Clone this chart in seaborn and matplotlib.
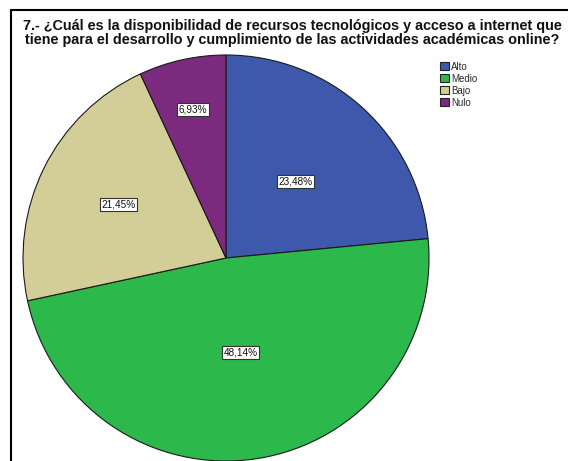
import matplotlib
matplotlib.use("Agg")
import matplotlib.pyplot as plt
from matplotlib.lines import Line2D
from matplotlib.patches import Patch
import seaborn as sns
import numpy as np

sns.set_theme(style="white")
plt.rcParams["font.family"] = ["Liberation Sans", "DejaVu Sans"]

categories = ["Alto", "Medio", "Bajo", "Nulo"]
percentages = [23.48, 48.14, 21.45, 6.93]
colors = ["#3E58AC", "#2DB84B", "#D3CE97", "#7B2A7E"]
label_radius = [0.51, 0.47, 0.59, 0.75]

W, H = 568, 461
fig = plt.figure(figsize=(W / 100, H / 100), dpi=100)
fig.patch.set_facecolor("white")

# pie area in pixel coordinates: centre (226, 258), radius ~203
cx, cy, r = 226, 258, 203
ax = fig.add_axes([(cx - r) / W, 1 - (cy + r) / H, 2 * r / W, 2 * r / H])
wedges, _ = ax.pie(
    percentages,
    colors=colors,
    startangle=90,
    counterclock=False,
    wedgeprops=dict(edgecolor="#1a1a1a", linewidth=0.8),
)
ax.set_aspect("auto")
ax.set_xlim(-1, 1)
ax.set_ylim(-1, 1)

for w, pct, rr in zip(wedges, percentages, label_radius):
    ang = np.deg2rad((w.theta1 + w.theta2) / 2)
    ax.text(
        rr * np.cos(ang), rr * np.sin(ang),
        f"{pct:.2f}%".replace(".", ","),
        ha="center", va="center", fontsize=7.2, color="#111111",
        bbox=dict(boxstyle="square,pad=0.15", facecolor="white",
                  edgecolor="#333333", linewidth=0.8),
    )

fig.text(
    292 / W, 1 - 33 / H,
    "7.- ¿Cuál es la disponibilidad de recursos tecnológicos y acceso a internet que\n"
    "tiene para el desarrollo y cumplimiento de las actividades académicas online?",
    ha="center", va="center", fontsize=10.4, fontweight="bold",
    linespacing=0.92, color="#111111",
)

handles = [Patch(facecolor=c, edgecolor="#222222", linewidth=0.8) for c in colors]
fig.legend(
    handles, categories,
    loc="upper left", bbox_to_anchor=(433 / W, 1 - 55 / H),
    frameon=False, fontsize=7, handlelength=0.9, handleheight=0.9,
    handletextpad=0.3, labelspacing=0.2, borderpad=0.2,
)

# outer frame (top and left edges visible)
fig.add_artist(Line2D([10.5 / W, 1.0], [1 - 10.5 / H] * 2, color="black", linewidth=1.5))
fig.add_artist(Line2D([10.5 / W] * 2, [0.0, 1 - 10.5 / H], color="black", linewidth=1.5))

fig.savefig("out.png", dpi=100, facecolor="white")
